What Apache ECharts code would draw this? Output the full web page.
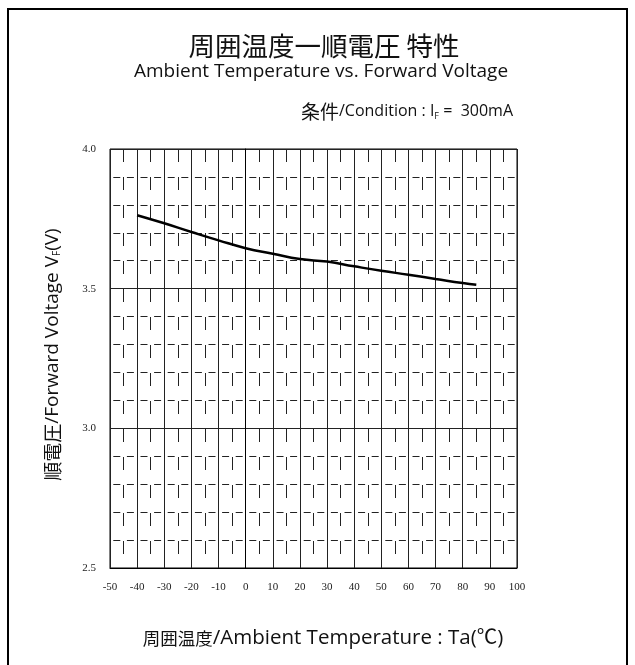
<!DOCTYPE html>
<html>
<head>
<meta charset="utf-8">
<script src="https://cdn.jsdelivr.net/npm/echarts@6/dist/echarts.min.js"></script>
<style>
html,body{margin:0;padding:0;background:#fff;}
#chart{width:635px;height:665px;}
</style>
</head>
<body>
<div id="chart"></div>
<script>
const temperatures = [-40, -30, -20, -10, 0, 10, 20, 30, 40, 50, 60, 70, 80, 85];
const forwardVoltage = [3.763, 3.734, 3.703, 3.673, 3.645, 3.625, 3.606, 3.597, 3.58, 3.564, 3.55, 3.535, 3.52, 3.514];
const xTicks = [-50, -40, -30, -20, -10, 0, 10, 20, 30, 40, 50, 60, 70, 80, 90, 100];
const yTicks = [2.5, 3.0, 3.5, 4.0];

const titleJP = '周囲温度一順電圧 特性';
const titleEN = 'Ambient Temperature vs. Forward Voltage';

const chart = echarts.init(document.getElementById('chart'), null, {renderer: 'canvas'});
const latin = '"Open Sans", "Noto Sans CJK JP", sans-serif';
const cjk = '"Noto Sans CJK JP", sans-serif';

chart.setOption({
  animation: false,
  backgroundColor: '#fff',
  title: [
    {text: titleJP, left: 319, top: 28, textAlign: 'center',
     textStyle: {fontFamily: cjk, fontSize: 26.5, fontWeight: 'normal', color: '#111'}},
    {text: titleEN, left: 316, top: 57, textAlign: 'center',
     textStyle: {fontFamily: latin, fontSize: 19, fontWeight: 'normal', color: '#111'}},
    {text: '{c|条件}{a|/Condition : I}{s|F}{a| =  300mA}', right: 117, top: 97,
     textStyle: {fontWeight: 'normal', rich: {
       c: {fontFamily: cjk, fontSize: 19, fontWeight: 'normal', color: '#111'},
       a: {fontFamily: latin, fontSize: 16, fontWeight: 'normal', color: '#111'},
       s: {fontFamily: latin, fontSize: 9, fontWeight: 'normal', color: '#111', padding: [9, 0, 0, 0]}
     }}}
  ],
  grid: {left: 110, right: 118, top: 149, bottom: 97, show: true, borderColor: '#000', borderWidth: 1},
  xAxis: {
    type: 'value', min: -50, max: 100, interval: 10,
    name: '{c|周囲温度}{a|/Ambient Temperature : Ta(℃)}', nameLocation: 'middle', nameGap: 60,
    nameTextStyle: {padding: [0, 0, 0, 19], rich: {
      c: {fontFamily: cjk, fontSize: 17.5, color: '#111'},
      a: {fontFamily: latin, fontSize: 20.5, color: '#111'}
    }},
    axisLine: {show: true, lineStyle: {color: '#000', width: 1}},
    axisTick: {show: false},
    axisLabel: {fontFamily: '"Liberation Serif", serif', fontSize: 11, color: '#222', margin: 14,
      formatter: v => xTicks.includes(v) ? String(v) : ''},
    splitLine: {show: true, lineStyle: {color: '#222', width: 1, type: 'solid'}},
    minorTick: {show: false, splitNumber: 2},
    minorSplitLine: {show: true, lineStyle: {color: '#222', width: 1, type: [13, 15], dashOffset: 0}}
  },
  yAxis: {
    type: 'value', min: 2.5, max: 4.0, interval: 0.5,
    name: '{c|順電圧}{a|/Forward Voltage V}{s|F}{a|(V)}', nameLocation: 'middle', nameGap: 48, nameRotate: 90,
    nameTextStyle: {padding: [0, 0, 0, 8], rich: {
      c: {fontFamily: cjk, fontSize: 19, color: '#111'},
      a: {fontFamily: latin, fontSize: 19, color: '#111'},
      s: {fontFamily: latin, fontSize: 10, color: '#111', padding: [9, 0, 0, 0]}
    }},
    axisLine: {show: true, lineStyle: {color: '#000', width: 1}},
    axisTick: {show: false},
    axisLabel: {fontFamily: '"Liberation Serif", serif', fontSize: 11, color: '#222', margin: 14,
      formatter: v => { const t = yTicks.find(y => Math.abs(y - v) < 1e-6); return t !== undefined ? t.toFixed(1) : ''; }},
    splitLine: {show: true, lineStyle: {color: '#222', width: 1, type: 'solid'}},
    minorTick: {show: false, splitNumber: 5},
    minorSplitLine: {show: true, lineStyle: {color: '#222', width: 1, type: [7, 6.6], dashOffset: 10.3}}
  },
  series: [{
    type: 'line',
    data: temperatures.map((t, i) => [t, forwardVoltage[i]]),
    smooth: true,
    symbol: 'none',
    lineStyle: {color: '#000', width: 2.5},
    z: 10
  }],
  graphic: [
    {type: 'polyline', shape: {points: [[8, 665], [8, 9], [627, 9], [627, 665]]},
     style: {stroke: '#000', lineWidth: 2, fill: null}, silent: true}
  ]
});
</script>
</body>
</html>
